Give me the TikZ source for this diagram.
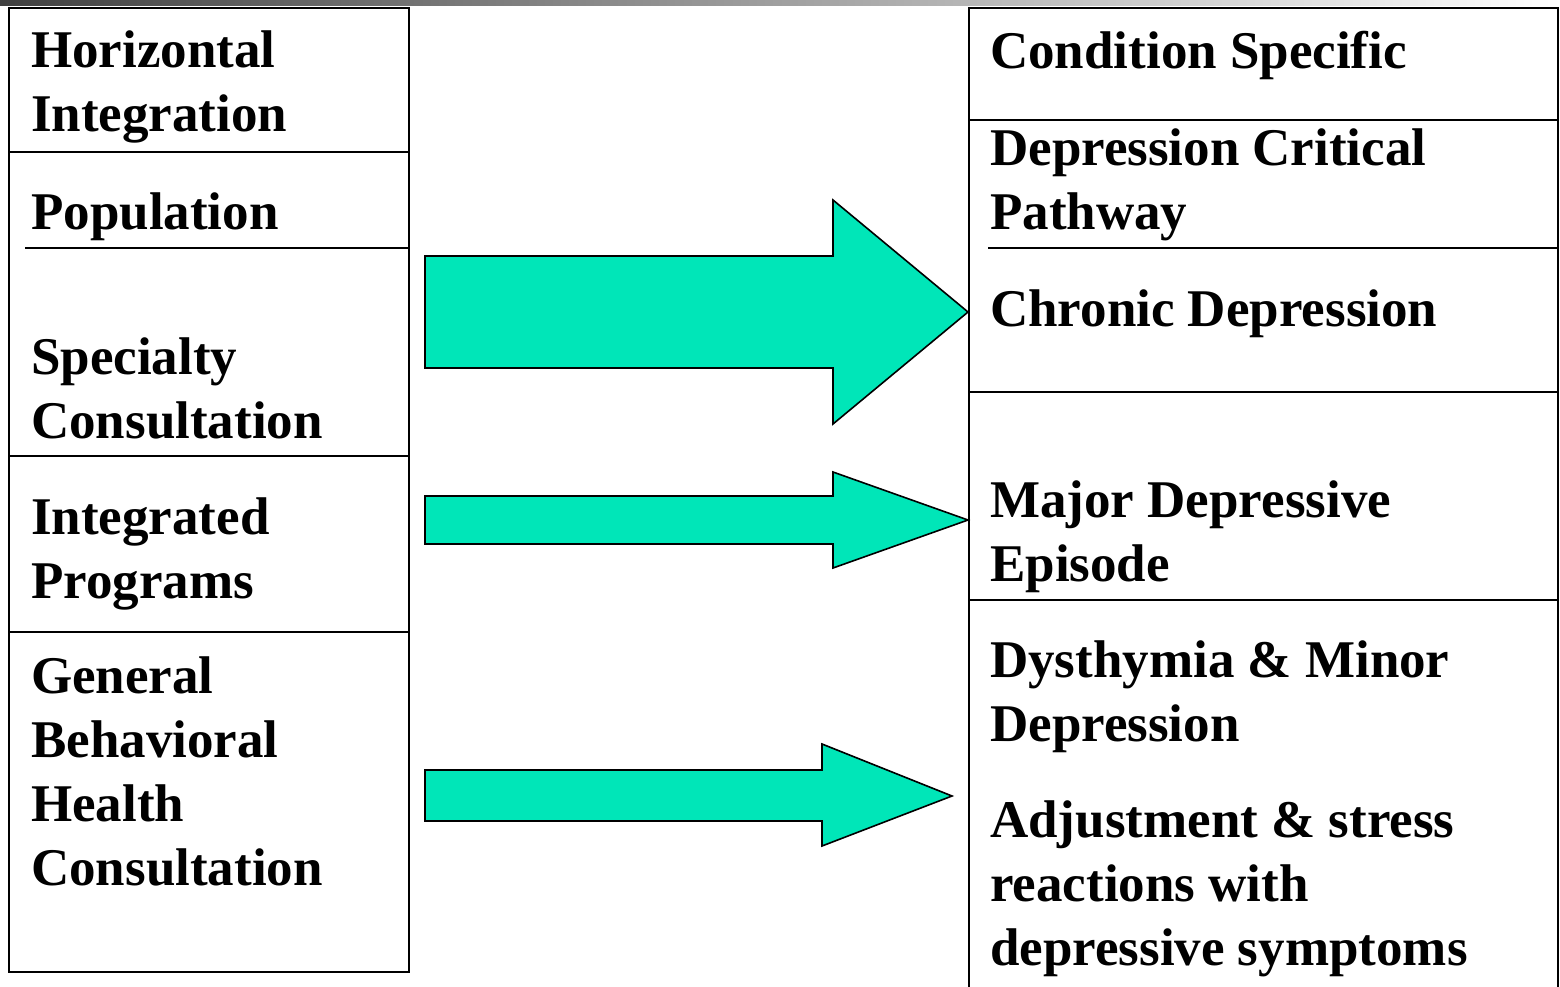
\documentclass[tikz,border=0pt]{standalone}
\usepackage{fontspec}
\setmainfont{Liberation Serif}
\definecolor{arrowfill}{HTML}{00E6B8}
\tikzset{
  lbl/.style={anchor=base west, inner sep=0pt, font=\fontsize{53}{64}\selectfont\bfseries},
  frame/.style={line width=2pt, draw=black},
  bigarrow/.style={line width=1.6pt, draw=black, fill=arrowfill, line join=miter}
}
\begin{document}
\begin{tikzpicture}[x=1pt,y=-1pt]
\useasboundingbox (0,0) rectangle (1560,986);
% top gradient bar
\shade[left color=black!75, right color=white] (0,0) rectangle (1560,5);
% left panel
\draw[frame] (9,8) rectangle (409,972);
\draw[frame] (9,152) -- (409,152);
\draw[frame] (25,248) -- (409,248);
\draw[frame] (9,456) -- (409,456);
\draw[frame] (9,632) -- (409,632);
% right panel
\draw[frame] (969,990) -- (969,8) -- (1558,8) -- (1558,990);
\draw[frame] (969,120) -- (1558,120);
\draw[frame] (988,248) -- (1558,248);
\draw[frame] (969,392) -- (1558,392);
\draw[frame] (969,600) -- (1558,600);
% left texts
\node[lbl] (l1a) at (31,67) {Horizontal};
\node[lbl] (l1b) at (31,131) {Integration};
\node[lbl] (l2) at (31,229) {Population};
\node[lbl] (l3a) at (31,374) {Specialty};
\node[lbl] (l3b) at (31,438) {Consultation};
\node[lbl] (l4a) at (31,534) {Integrated};
\node[lbl] (l4b) at (31,598) {Programs};
\node[lbl] (l5a) at (31,693) {General};
\node[lbl] (l5b) at (31,757) {Behavioral};
\node[lbl] (l5c) at (31,821) {Health};
\node[lbl] (l5d) at (31,885) {Consultation};
% right texts
\node[lbl] (r1) at (990,68) {Condition Specific};
\node[lbl] (r2a) at (990,165) {Depression Critical};
\node[lbl] (r2b) at (990,229) {Pathway};
\node[lbl] (r3) at (990,326) {Chronic Depression};
\node[lbl] (r4a) at (990,517) {Major Depressive};
\node[lbl] (r4b) at (990,581) {Episode};
\node[lbl] (r5a) at (990,677) {Dysthymia \& Minor};
\node[lbl] (r5b) at (990,741) {Depression};
\node[lbl] (r6a) at (990,837) {Adjustment \& stress};
\node[lbl] (r6b) at (990,901) {reactions with};
\node[lbl] (r6c) at (990,965) {depressive symptoms};
% block arrows
\draw[bigarrow] (425,256) -- (833,256) -- (833,200) -- (968,312) -- (833,424) -- (833,368) -- (425,368) -- cycle;
\draw[bigarrow] (425,496) -- (833,496) -- (833,472) -- (968,520) -- (833,568) -- (833,544) -- (425,544) -- cycle;
\draw[bigarrow] (425,770) -- (822,770) -- (822,744) -- (952,796) -- (822,846) -- (822,821) -- (425,821) -- cycle;
\end{tikzpicture}
\end{document}
